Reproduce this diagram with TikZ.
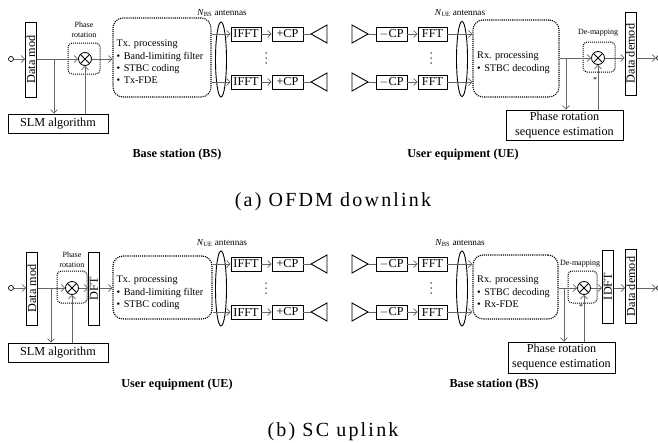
\documentclass[tikz,border=0pt]{standalone}
\usepackage{fontspec}
\setmainfont{Liberation Serif}
\newfontfamily\capfont[LetterSpace=11]{Liberation Serif}
\usetikzlibrary{arrows.meta,shapes.geometric}

\begin{document}
\begin{tikzpicture}[x=1pt,y=-1pt,
  box/.style={draw,line width=0.9pt,inner sep=0pt,font=\fontsize{12.2}{15}\selectfont},
  proc/.style={draw,line width=1.1pt,densely dotted,rounded corners=10pt,inner sep=0pt},
  grp/.style={draw,line width=1pt,densely dotted,rounded corners=4pt,inner sep=0pt},
  mix/.style={draw,circle,line width=0.8pt,minimum size=13pt,inner sep=0pt,
    path picture={\draw[line width=0.8pt]
      (path picture bounding box.north west) -- (path picture bounding box.south east)
      (path picture bounding box.south west) -- (path picture bounding box.north east);}},
  wire/.style={draw=black!60,line width=0.7pt},
  arr/.style={wire,-{Straight Barb[length=3.5pt,width=7pt]}},
  port/.style={draw,circle,minimum size=5pt,inner sep=0pt,line width=0.7pt},
  ant/.style={draw,line width=0.9pt,line join=miter},
  bundle/.style={draw,ellipse,line width=0.9pt,inner sep=0pt,minimum width=11pt,minimum height=75pt},
  small/.style={font=\fontsize{8}{10}\selectfont,align=center,inner sep=0pt},
  lbl/.style={font=\fontsize{9.2}{10}\selectfont,inner sep=0pt},
  bold/.style={font=\bfseries\fontsize{12.2}{13}\selectfont,inner sep=0pt},
  txt/.style={font=\fontsize{10.2}{12.3}\selectfont,align=left,inner sep=0pt,anchor=north west},
  captext/.style={font=\capfont\fontsize{20}{20}\selectfont,inner sep=0pt},
]
\useasboundingbox (0,0) rectangle (658,442);
\newcommand{\bul}{\textbullet\hspace{3.5pt}}

% ================= (a) OFDM downlink =================
% --- base station (transmitter) ---
\node[port] (a-in) at (11,59) {};
\node[box,minimum width=11pt,minimum height=75pt] (a-mod) at (31,59.5) {\rotatebox{90}{Data mod}};
\node[grp,minimum width=32pt,minimum height=31pt] (a-rotg) at (84,58.5) {};
\node[mix] (a-mul) at (85,59) {};
\node[small] (a-rotl) at (84,30) {Phase\\rotation};
\node[box,minimum width=100pt,minimum height=19pt] (a-slm) at (58,123.5) {SLM algorithm};
\node[proc,minimum width=98pt,minimum height=79pt] (a-tx) at (162,57.5) {};
\node[txt] (a-txt) at (116.5,40) {Tx. processing\\\bul Band-limiting filter\\\bul STBC coding\\\bul Tx-FDE};
\node[bundle] (a-ell1) at (221,59.5) {};
\node[lbl] (a-nbs) at (222,13) {\textit{N}\textsubscript{BS} antennas};
\node[box,minimum width=30pt,minimum height=14pt] (a-ifft1) at (246,34) {IFFT};
\node[box,minimum width=30pt,minimum height=14pt] (a-ifft2) at (246,82) {IFFT};
\node[box,minimum width=31pt,minimum height=14pt] (a-cp1) at (287.5,34) {+CP};
\node[box,minimum width=31pt,minimum height=14pt] (a-cp2) at (287.5,82) {+CP};
\coordinate (a-ant1) at (311,34);
\coordinate (a-ant2) at (311,82);
\path[ant] (a-ant1) -- ++(16,-9) -- ++(0,18) -- cycle;
\path[ant] (a-ant2) -- ++(16,-9) -- ++(0,18) -- cycle;
\foreach \yy in {53,58,63} \fill (266,\yy) circle (0.75pt);
\node[bold] (a-bs) at (177,155) {Base station (BS)};

\draw[arr] (a-in) -- (a-in -| a-mod.west);
\draw[arr] (a-mod.east |- a-mul) -- (a-mul);
\coordinate (a-br) at (54,59);
\draw[arr] (a-br) -- (a-br |- a-slm.north);
\draw[arr] (a-slm.north -| a-mul) -- (a-mul);
\draw[arr] (a-mul) -- (a-mul -| a-tx.west);
\draw[arr] (a-tx.east |- a-ifft1) -- (a-ifft1.west);
\draw[arr] (a-tx.east |- a-ifft2) -- (a-ifft2.west);
\draw[arr] (a-ifft1) -- (a-cp1);
\draw[arr] (a-ifft2) -- (a-cp2);
\draw[wire] (a-cp1) -- (a-ant1);
\draw[wire] (a-cp2) -- (a-ant2);

% --- user equipment (receiver) ---
\coordinate (a-ant3) at (368,34);
\coordinate (a-ant4) at (368,82);
\path[ant] (a-ant3) -- ++(-16,-9) -- ++(0,18) -- cycle;
\path[ant] (a-ant4) -- ++(-16,-9) -- ++(0,18) -- cycle;
\node[box,minimum width=31pt,minimum height=14pt] (a-mcp1) at (391.5,34) {$-$CP};
\node[box,minimum width=31pt,minimum height=14pt] (a-mcp2) at (391.5,82) {$-$CP};
\node[box,minimum width=29pt,minimum height=14pt] (a-fft1) at (432.5,34) {FFT};
\node[box,minimum width=29pt,minimum height=14pt] (a-fft2) at (432.5,82) {FFT};
\foreach \yy in {53,58,63} \fill (431,\yy) circle (0.75pt);
\node[bundle] (a-ell2) at (462,59) {};
\node[lbl] (a-nue) at (460,13) {\textit{N}\textsubscript{UE} antennas};
\node[proc,minimum width=86pt,minimum height=77pt] (a-rx) at (516,58.5) {};
\node[txt] (a-rxt) at (477,52) {Rx. processing\\\bul STBC decoding};
\node[grp,minimum width=32pt,minimum height=30pt] (a-demg) at (599,57) {};
\node[mix] (a-dem) at (598,58) {};
\node[small] (a-deml) at (598,33) {De-mapping};
\node[small] (a-star) at (595,80) {*};
\node[box,minimum width=11pt,minimum height=83pt] (a-demod) at (630.5,53.5) {\rotatebox{90}{Data demod}};
\node[port] (a-out) at (659,58) {};
\node[box,minimum width=117pt,minimum height=30pt,align=center] (a-est) at (564.5,125) {Phase rotation\\sequence estimation};
\node[bold] (a-ue) at (463,155) {User equipment (UE)};

\draw[wire] (a-ant3) -- (a-mcp1);
\draw[wire] (a-ant4) -- (a-mcp2);
\draw[arr] (a-mcp1) -- (a-fft1);
\draw[arr] (a-mcp2) -- (a-fft2);
\draw[arr] (a-fft1.east) -- (a-fft1 -| a-rx.west);
\draw[arr] (a-fft2.east) -- (a-fft2 -| a-rx.west);
\draw[arr] (a-rx.east |- a-dem) -- (a-dem);
\coordinate (a-br2) at (566,58);
\draw[arr] (a-br2) -- (a-br2 |- a-est.north);
\draw[arr] (a-est.north -| a-dem) -- (a-dem);
\draw[arr] (a-dem) -- (a-dem -| a-demod.west);
\draw[arr] (a-demod.east |- a-dem) -- (a-out);

\node[captext] (a-cap) at (333,202) {(a) OFDM downlink};

% ================= (b) SC uplink =================
% --- user equipment (transmitter) ---
\node[port] (b-in) at (11,288) {};
\node[box,minimum width=11pt,minimum height=73pt] (b-mod) at (32,288.5) {\rotatebox{90}{Data mod}};
\node[grp,minimum width=30pt,minimum height=32pt] (b-rotg) at (72,287) {};
\node[mix] (b-mul) at (72,288) {};
\node[small] (b-rotl) at (72,260) {Phase\\rotation};
\node[box,minimum width=11pt,minimum height=73pt] (b-dft) at (94,288.5) {\rotatebox{90}{DFT}};
\node[box,minimum width=100pt,minimum height=19pt] (b-slm) at (58,352.5) {SLM algorithm};
\node[proc,minimum width=99pt,minimum height=63pt] (b-tx) at (162.5,287.5) {};
\node[txt] (b-txt) at (116.5,276) {Tx. processing\\\bul Band-limiting filter\\\bul STBC coding};
\node[bundle] (b-ell1) at (221,288.5) {};
\node[lbl] (b-nue) at (222,243) {\textit{N}\textsubscript{UE} antennas};
\node[box,minimum width=30pt,minimum height=14pt] (b-ifft1) at (246,264) {IFFT};
\node[box,minimum width=30pt,minimum height=14pt] (b-ifft2) at (246,312) {IFFT};
\node[box,minimum width=31pt,minimum height=14pt] (b-cp1) at (287.5,264) {+CP};
\node[box,minimum width=31pt,minimum height=14pt] (b-cp2) at (287.5,312) {+CP};
\coordinate (b-ant1) at (311,264);
\coordinate (b-ant2) at (311,312);
\path[ant] (b-ant1) -- ++(16,-9) -- ++(0,18) -- cycle;
\path[ant] (b-ant2) -- ++(16,-9) -- ++(0,18) -- cycle;
\foreach \yy in {283,288,293} \fill (266,\yy) circle (0.75pt);
\node[bold] (b-ue) at (177,385) {User equipment (UE)};

\draw[arr] (b-in) -- (b-in -| b-mod.west);
\draw[arr] (b-mod.east |- b-mul) -- (b-mul);
\coordinate (b-br) at (51,288);
\draw[arr] (b-br) -- (b-br |- b-slm.north);
\draw[arr] (b-slm.north -| b-mul) -- (b-mul);
\draw[arr] (b-mul) -- (b-mul -| b-dft.west);
\draw[arr] (b-dft.east |- b-mul) -- (b-mul -| b-tx.west);
\draw[arr] (b-tx.east |- b-ifft1) -- (b-ifft1.west);
\draw[arr] (b-tx.east |- b-ifft2) -- (b-ifft2.west);
\draw[arr] (b-ifft1) -- (b-cp1);
\draw[arr] (b-ifft2) -- (b-cp2);
\draw[wire] (b-cp1) -- (b-ant1);
\draw[wire] (b-cp2) -- (b-ant2);

% --- base station (receiver) ---
\coordinate (b-ant3) at (368,264);
\coordinate (b-ant4) at (368,312);
\path[ant] (b-ant3) -- ++(-16,-9) -- ++(0,18) -- cycle;
\path[ant] (b-ant4) -- ++(-16,-9) -- ++(0,18) -- cycle;
\node[box,minimum width=31pt,minimum height=14pt] (b-mcp1) at (391.5,264) {$-$CP};
\node[box,minimum width=31pt,minimum height=14pt] (b-mcp2) at (391.5,312) {$-$CP};
\node[box,minimum width=29pt,minimum height=14pt] (b-fft1) at (432.5,264) {FFT};
\node[box,minimum width=29pt,minimum height=14pt] (b-fft2) at (432.5,312) {FFT};
\foreach \yy in {283,288,293} \fill (431,\yy) circle (0.75pt);
\node[bundle] (b-ell2) at (462,288.5) {};
\node[lbl] (b-nbs) at (460,243) {\textit{N}\textsubscript{BS} antennas};
\node[proc,minimum width=85pt,minimum height=64pt] (b-rx) at (515.5,287) {};
\node[txt] (b-rxt) at (477,276) {Rx. processing\\\bul STBC decoding\\\bul Rx-FDE};
\node[grp,minimum width=29pt,minimum height=32pt] (b-demg) at (582.5,287) {};
\node[mix] (b-dem) at (584,288) {};
\node[small] (b-deml) at (580,264) {De-mapping};
\node[small] (b-star) at (581,307) {*};
\node[box,minimum width=11pt,minimum height=73pt] (b-idft) at (608,286.5) {\rotatebox{90}{IDFT}};
\node[box,minimum width=11pt,minimum height=74pt] (b-demod) at (631,286.5) {\rotatebox{90}{Data demod}};
\node[port] (b-out) at (659,288) {};
\node[box,minimum width=107pt,minimum height=31pt,align=center] (b-est) at (561.5,357.5) {Phase rotation\\sequence estimation};
\node[bold] (b-bs) at (494,385) {Base station (BS)};

\draw[wire] (b-ant3) -- (b-mcp1);
\draw[wire] (b-ant4) -- (b-mcp2);
\draw[arr] (b-mcp1) -- (b-fft1);
\draw[arr] (b-mcp2) -- (b-fft2);
\draw[arr] (b-fft1.east) -- (b-fft1 -| b-rx.west);
\draw[arr] (b-fft2.east) -- (b-fft2 -| b-rx.west);
\draw[arr] (b-rx.east |- b-dem) -- (b-dem);
\coordinate (b-br2) at (564,288);
\draw[arr] (b-br2) -- (b-br2 |- b-est.north);
\draw[arr] (b-est.north -| b-dem) -- (b-dem);
\draw[arr] (b-dem) -- (b-dem -| b-idft.west);
\draw[arr] (b-idft.east |- b-dem) -- (b-dem -| b-demod.west);
\draw[arr] (b-demod.east |- b-dem) -- (b-out);

\node[captext] (b-cap) at (333,432) {(b) SC uplink};
\end{tikzpicture}
\end{document}
